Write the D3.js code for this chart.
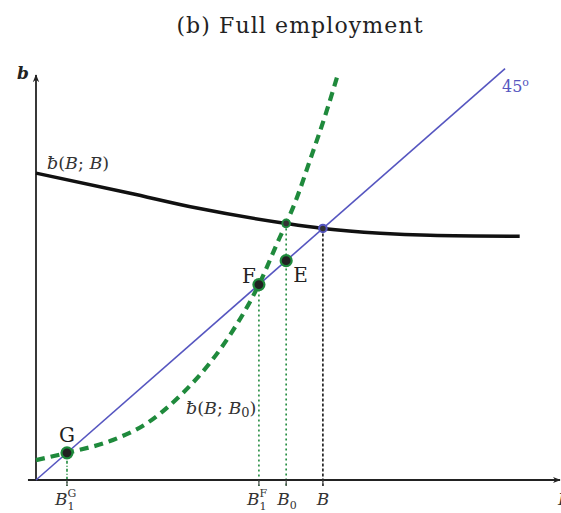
<!DOCTYPE html>
<html>
<head>
<meta charset="utf-8">
<script src="https://cdn.jsdelivr.net/npm/d3@7/dist/d3.min.js"></script>
<style>
  html, body { margin: 0; padding: 0; background: #fff; }
  svg { display: block; }
  text { font-family: "DejaVu Serif", "Liberation Serif", serif; }
</style>
</head>
<body>
<svg id="chart" width="561" height="513"></svg>
<script>
// Steady-state curve b̄(B; B): bequest as a function of the aggregate stock
const steadyCurve = [[0, 12.2], [3.28, 11.4], [5.61, 10.81], [8.72, 10.2], [10, 10],
                     [12, 9.81], [13.73, 9.73], [16.86, 9.69]];
// Short-run curve b̄(B; B0)
const shortRunCurve = [[0, 0.79], [1.08, 1.08], [2.68, 1.59], [3.87, 2.26], [5.12, 3.46],
                       [6.06, 4.65], [6.76, 5.76], [7.77, 7.77], [8.5, 9.65], [8.72, 10.2],
                       [9.02, 11.0], [9.55, 12.71], [10.14, 14.7], [10.49, 16.0]];
// 45-degree line end
const diagonalEnd = 16.35;
// Marked stocks on the B axis
const B1G = 1.08, B1F = 7.77, B0 = 8.72, Bbar = 10;
const axisTicks = [B1G, B1F, B0, Bbar];
// Equilibrium points
const points = [
  { name: "G", x: B1G, y: B1G },
  { name: "F", x: B1F, y: B1F },
  { name: "E", x: B0, y: B0 }
];

const svg = d3.select("#chart");
const x = d3.scaleLinear().domain([0, 18.3]).range([36, 561]);
const y = d3.scaleLinear().domain([0, 16.1]).range([480, 75]);

const green = "#1f8a3c", blue = "#5656c0", ink = "#1a1a1a";

// arrow heads
const defs = svg.append("defs");
defs.append("marker").attr("id", "arrow").attr("viewBox", "0 0 10 10")
  .attr("refX", 9).attr("refY", 5).attr("markerWidth", 8).attr("markerHeight", 8)
  .attr("markerUnits", "userSpaceOnUse").attr("orient", "auto")
  .append("path").attr("d", "M0,1 L10,5 L0,9 L3,5 Z").attr("fill", "#222");

// title
svg.append("text").attr("x", 300).attr("y", 33).attr("text-anchor", "middle")
  .attr("font-size", 22).attr("letter-spacing", 1.1).attr("fill", "#222")
  .text("(b) Full employment");

// vertical guides
const guides = [
  { x: B1G, top: B1G, color: green, dash: "3,2,1,2" },
  { x: B1F, top: B1F, color: green, dash: "2,3" },
  { x: B0, top: 10.2, color: green, dash: "2,3" },
  { x: Bbar, top: 10, color: ink, dash: "3,2" }
];
svg.selectAll(".guide").data(guides).join("line").attr("class", "guide")
  .attr("x1", d => x(d.x)).attr("x2", d => x(d.x))
  .attr("y1", d => y(d.top)).attr("y2", y(0) + 6)
  .attr("stroke", d => d.color).attr("stroke-width", 1.6)
  .attr("stroke-dasharray", d => d.dash);

// axes
svg.append("line").attr("x1", x(-0.28)).attr("x2", x(18.3) - 1)
  .attr("y1", y(0)).attr("y2", y(0)).attr("stroke", "#222").attr("stroke-width", 1.8)
  .attr("marker-end", "url(#arrow)");
svg.append("line").attr("x1", x(0)).attr("x2", x(0))
  .attr("y1", y(0) + 1).attr("y2", y(16.1))
  .attr("stroke", "#222").attr("stroke-width", 1.8).attr("marker-end", "url(#arrow)");
svg.selectAll(".tick").data(axisTicks).join("line").attr("class", "tick")
  .attr("x1", d => x(d)).attr("x2", d => x(d)).attr("y1", y(0)).attr("y2", y(0) + 6)
  .attr("stroke", "#444").attr("stroke-width", 1.2);

// 45-degree line
svg.append("line").attr("x1", x(0)).attr("y1", y(0))
  .attr("x2", x(diagonalEnd)).attr("y2", y(diagonalEnd))
  .attr("stroke", blue).attr("stroke-width", 1.6);

const line = d3.line().x(d => x(d[0])).y(d => y(d[1])).curve(d3.curveMonotoneX);

// steady-state curve
svg.append("path").datum(steadyCurve).attr("d", line)
  .attr("fill", "none").attr("stroke", "#111").attr("stroke-width", 3.5);

// short-run curve
svg.append("path").datum(shortRunCurve).attr("d", line)
  .attr("fill", "none").attr("stroke", green).attr("stroke-width", 4.2)
  .attr("stroke-dasharray", "9,6");

// small markers at intersections
svg.append("circle").attr("cx", x(B0)).attr("cy", y(10.2)).attr("r", 3.8)
  .attr("fill", "#333").attr("stroke", green).attr("stroke-width", 2);
svg.append("circle").attr("cx", x(Bbar)).attr("cy", y(10)).attr("r", 3.8)
  .attr("fill", "#333").attr("stroke", blue).attr("stroke-width", 2);

// equilibrium points
svg.selectAll(".pt").data(points).join("circle").attr("class", "pt")
  .attr("cx", d => x(d.x)).attr("cy", d => y(d.y)).attr("r", 5.5)
  .attr("fill", "#222").attr("stroke", green).attr("stroke-width", 2.2);

// point labels
const ptLabel = { G: [0, -11, "middle"], F: [-3, -2, "end"], E: [7, 21, "start"] };
svg.selectAll(".ptl").data(points).join("text").attr("class", "ptl")
  .attr("x", d => x(d.x) + ptLabel[d.name][0]).attr("y", d => y(d.y) + ptLabel[d.name][1])
  .attr("text-anchor", d => ptLabel[d.name][2])
  .attr("font-size", 20).attr("fill", "#222").text(d => d.name);

// math labels
function mathLabel(px, py, parts, size, color, anchor) {
  const t = svg.append("text").attr("x", px).attr("y", py).attr("font-size", size)
    .attr("fill", color).attr("text-anchor", anchor || "start");
  parts.forEach(p => {
    const s = t.append("tspan").text(p.t);
    if (p.italic) s.attr("font-style", "italic");
    if (p.dy) s.attr("dy", p.dy);
    if (p.dx) s.attr("dx", p.dx);
    if (p.size) s.attr("font-size", p.size);
  });
  return t;
}

svg.append("text").attr("x", 17).attr("y", 79).attr("font-size", 17)
  .attr("font-style", "italic").attr("font-weight", "bold").attr("fill", "#222").text("b");

mathLabel(47, 169, [{ t: "ƀ", italic: true }, { t: "(" }, { t: "B", italic: true }, { t: "; " },
  { t: "B", italic: true }, { t: ")" }], 17.5, "#333");

mathLabel(186, 414, [{ t: "ƀ", italic: true }, { t: "(" }, { t: "B", italic: true }, { t: "; " },
  { t: "B", italic: true }, { t: "0", size: 13, dy: 3 }, { t: ")", dy: -3 }], 17.5, "#333");

mathLabel(502, 92, [{ t: "45" }, { t: "o", size: 11, dy: -6 }], 16, blue);

// B-axis labels
mathLabel(x(B1G) - 12, 505, [{ t: "B", italic: true }, { t: "1", size: 11, dy: 5 },
  { t: "G", size: 11, dy: -13, dx: -7 }], 17, "#333");
mathLabel(x(B1F) - 12, 505, [{ t: "B", italic: true }, { t: "1", size: 11, dy: 5 },
  { t: "F", size: 11, dy: -13, dx: -7 }], 17, "#333");
mathLabel(x(B0) - 9, 505, [{ t: "B", italic: true }, { t: "0", size: 11, dy: 4 }], 17, "#333");
mathLabel(x(Bbar), 505, [{ t: "B", italic: true }], 17, "#333", "middle");
mathLabel(x(18.3) - 3, 505, [{ t: "B", italic: true }], 17, "#333");
</script>
</body>
</html>
